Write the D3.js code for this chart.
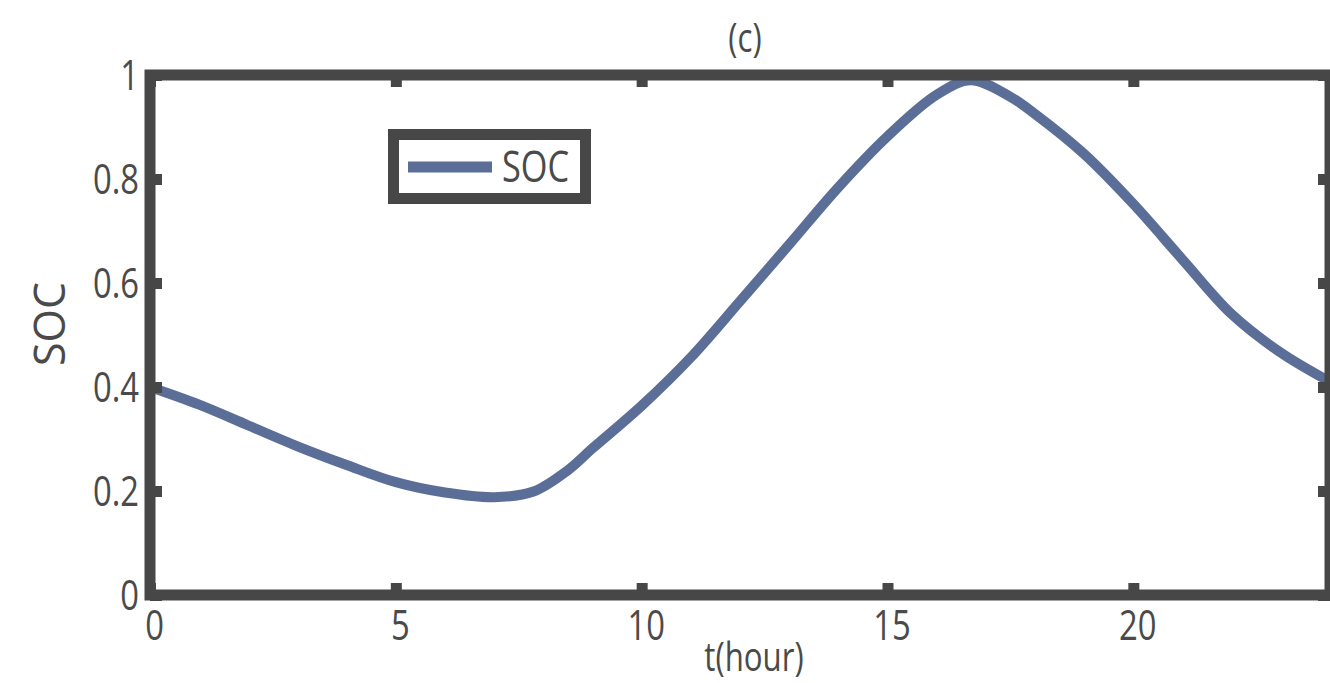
<!DOCTYPE html>
<html>
<head>
<meta charset="utf-8">
<script src="https://cdn.jsdelivr.net/npm/d3@7"></script>
<style>
  body { margin: 0; background: #fff; }
  svg { display: block; }
  text { font-family: "Open Sans", sans-serif; fill: #4a4a4a; }
</style>
</head>
<body>
<div id="chart"></div>
<script>
// SOC over one day
const hours = [0, 1, 2, 3, 4, 5, 6, 7, 7.8, 8.5, 9, 10, 11, 12, 13, 14, 15, 16, 16.7, 17.5, 18, 19, 20, 21, 22, 23, 24];
const soc   = [0.40, 0.366, 0.326, 0.286, 0.250, 0.217, 0.197, 0.188, 0.199, 0.240, 0.282, 0.364, 0.457, 0.565, 0.674, 0.784, 0.882, 0.962, 0.99, 0.958, 0.925, 0.848, 0.752, 0.645, 0.54, 0.466, 0.41];
const xTicks = [0, 5, 10, 15, 20];
const yTicks = [0, 0.2, 0.4, 0.6, 0.8, 1];

const width = 1330, height = 683;
const plotLeft = 150, plotRight = 1330, plotTop = 75, plotBottom = 595;
const squeeze = 0.78;   // horizontal text looks narrow in the original
const frameColor = "#474747";
const lineColor = "#5a6e98";

const svg = d3.select("#chart").append("svg")
  .attr("width", width)
  .attr("height", height);

const x = d3.scaleLinear().domain([0, 24]).range([plotLeft, plotRight]);
const y = d3.scaleLinear().domain([0, 1]).range([plotBottom, plotTop]);

// curve
const line = d3.line()
  .x((d, i) => x(hours[i]))
  .y(d => y(d))
  .curve(d3.curveCatmullRom.alpha(0.5));

svg.append("path")
  .datum(soc)
  .attr("d", line)
  .attr("fill", "none")
  .attr("stroke", lineColor)
  .attr("stroke-width", 10)
  .attr("stroke-linejoin", "round");

// axes with inward ticks on all four sides
function styleAxis(g) {
  g.select(".domain").remove();
  g.selectAll(".tick line").attr("stroke", frameColor).attr("stroke-width", 11);
}

const xAxis = svg.append("g")
  .attr("transform", `translate(0,${plotBottom})`)
  .call(d3.axisBottom(x).tickValues(xTicks).tickSize(-12).tickFormat(d3.format("d")))
  .call(styleAxis);
xAxis.selectAll(".tick text")
  .attr("font-size", 42)
  .attr("y", 0).attr("dy", 0)
  .attr("transform", `translate(4,45) scale(${squeeze},1)`)
  .attr("fill", "#4a4a4a");

svg.append("g")
  .attr("transform", `translate(0,${plotTop})`)
  .call(d3.axisTop(x).tickValues(xTicks).tickSize(-12).tickFormat(""))
  .call(styleAxis);

const yAxis = svg.append("g")
  .attr("transform", `translate(${plotLeft},0)`)
  .call(d3.axisLeft(y).tickValues(yTicks).tickSize(-12).tickFormat(d => d3.format("")(+d.toFixed(1))))
  .call(styleAxis);
yAxis.selectAll(".tick text")
  .attr("font-size", 42)
  .attr("x", 0).attr("dy", "0.34em")
  .attr("text-anchor", "end")
  .attr("transform", `translate(-11,0) scale(${squeeze},1)`)
  .attr("fill", "#4a4a4a");

svg.append("g")
  .attr("transform", `translate(${plotRight},0)`)
  .call(d3.axisRight(y).tickValues(yTicks).tickSize(-12).tickFormat(""))
  .call(styleAxis);

// frame
svg.append("rect")
  .attr("x", plotLeft).attr("y", plotTop)
  .attr("width", plotRight - plotLeft).attr("height", plotBottom - plotTop)
  .attr("fill", "none")
  .attr("stroke", frameColor)
  .attr("stroke-width", 11);

// titles
svg.append("text")
  .attr("transform", `translate(745,52) scale(${squeeze},1)`)
  .attr("text-anchor", "middle")
  .attr("font-size", 40)
  .text("(c)");

svg.append("text")
  .attr("transform", `translate(754,671) scale(${squeeze},1)`)
  .attr("text-anchor", "middle")
  .attr("font-size", 40)
  .text("t(hour)");

svg.append("text")
  .attr("transform", "translate(65,324) rotate(-90)")
  .attr("text-anchor", "middle")
  .attr("font-size", 43)
  .text("SOC");

// legend
const legend = svg.append("g");
legend.append("rect")
  .attr("x", 393.5).attr("y", 134.5)
  .attr("width", 192).attr("height", 64)
  .attr("fill", "#fff")
  .attr("stroke", frameColor)
  .attr("stroke-width", 11);
legend.append("line")
  .attr("x1", 408).attr("x2", 492)
  .attr("y1", 167).attr("y2", 167)
  .attr("stroke", lineColor)
  .attr("stroke-width", 11);
legend.append("text")
  .attr("transform", `translate(502,182) scale(${squeeze},1)`)
  .attr("font-size", 44)
  .text("SOC");
</script>
</body>
</html>
